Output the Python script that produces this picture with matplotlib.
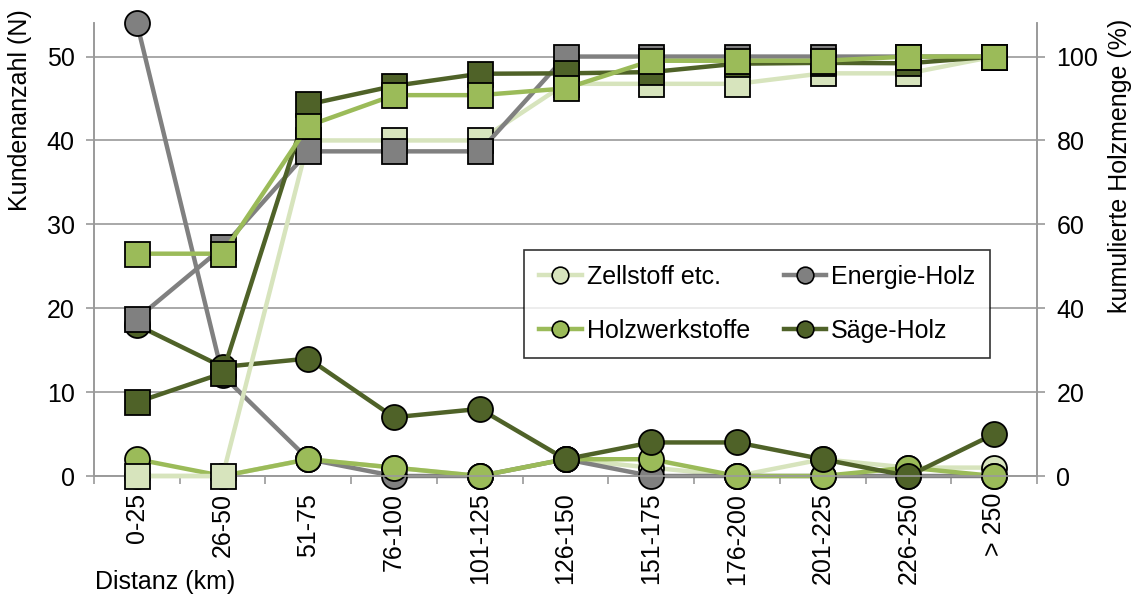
import numpy as np
import matplotlib.pyplot as plt
from matplotlib.lines import Line2D

plt.rcParams['font.family'] = ['Liberation Sans', 'DejaVu Sans']

cats = ['0-25', '26-50', '51-75', '76-100', '101-125', '126-150',
        '151-175', '176-200', '201-225', '226-250', '> 250']

# Kundenanzahl (N) - circles, left axis
zell_n = [0, 0, 2, 1, 0, 2, 1, 0, 2, 1, 1]
energie_n = [54, 12, 2, 0, 0, 2, 0, 0, 0, 0, 0]
holzw_n = [2, 0, 2, 1, 0, 2, 2, 0, 0, 1, 0]
saege_n = [18, 13, 14, 7, 8, 2, 4, 4, 2, 0, 5]

# kumulierte Holzmenge (%) - squares, right axis
zell_cum = [0, 0, 80, 80, 80, 93.5, 93.5, 93.5, 96, 96, 100]
energie_cum = [37.5, 54.5, 77.4, 77.4, 77.4, 100, 100, 100, 100, 100, 100]
holzw_cum = [53, 53, 83.5, 90.8, 90.8, 92.4, 99, 99, 99, 100, 100]
saege_cum = [17.6, 24.5, 88.6, 93, 95.9, 96, 96.3, 98.3, 98.5, 98.4, 100]

names = ['Zellstoff etc.', 'Energie-Holz', 'Holzwerkstoffe', 'Säge-Holz']
colors = ['#d7e4bd', '#808080', '#9bbb59', '#4f6228']
axis_col = '#9a9a9a'
fs = 18

x = np.arange(len(cats))

fig = plt.figure(figsize=(11.37, 5.97), dpi=100)
ax = fig.add_axes([94/1137, 1-476/597, (1037-94)/1137, (476-23)/597])
ax2 = ax.twinx()

# circles (counts)
for vals, c, z in zip([zell_n, energie_n, holzw_n, saege_n], colors, [3, 4, 5, 6]):
    ax.plot(x, vals, color=c, lw=3.2, marker='o', ms=18, mfc=c, mec='black',
            mew=1.3, zorder=z, clip_on=False)

# squares (cumulative)
for vals, c, z in zip([zell_cum, energie_cum, saege_cum, holzw_cum],
                      [colors[0], colors[1], colors[3], colors[2]], [3, 4, 5, 6]):
    ax2.plot(x, vals, color=c, lw=3.2, marker='s', ms=18, mfc=c, mec='black',
             mew=1.3, zorder=z, clip_on=False)

ax.set_xlim(-0.5, len(cats) - 0.5)
ax.set_ylim(0, 54)
ax2.set_ylim(0, 108)
ax.set_yticks(range(0, 51, 10))
ax2.set_yticks(range(0, 101, 20))

ax.set_xticks(x)
ax.set_xticklabels(cats, rotation=90, fontsize=fs)
ax.set_xticks(np.arange(-0.5, len(cats)), minor=True)
ax.tick_params(axis='x', which='major', length=0, pad=12)
ax.tick_params(axis='x', which='minor', length=6, width=1.2, color=axis_col, direction='out')
ax.tick_params(axis='y', labelsize=fs, length=6, width=1.2, color=axis_col, pad=8)
ax2.tick_params(axis='y', labelsize=fs, length=6, width=1.2, color=axis_col, pad=8)

ax.grid(axis='y', color=axis_col, lw=1.2)
ax.set_axisbelow(True)
for a in (ax, ax2):
    a.spines['top'].set_visible(False)
    for s in ('left', 'right', 'bottom'):
        a.spines[s].set_color(axis_col)
        a.spines[s].set_linewidth(1.2)

fig.text(20/1137, 1-110/597, 'Kundenanzahl (N)', rotation=90, fontsize=fs,
         ha='center', va='center')
fig.text(1120/1137, 1-166/597, 'kumulierte Holzmenge (%)', rotation=90, fontsize=fs,
         ha='center', va='center')
fig.text(95/1137, 1-582/597, 'Distanz (km)', fontsize=fs, ha='left', va='center')

# column-major fill -> rows: Zellstoff/Energie, Holzwerkstoffe/Säge
order = [0, 2, 1, 3]
handles = [Line2D([], [], color=colors[i], lw=3.2, marker='o', ms=12, mfc=colors[i],
                  mec='black', mew=1.2) for i in order]
leg = ax2.legend(handles, [names[i] for i in order], ncol=2, loc='upper left',
                 bbox_to_anchor=(0.456, 0.499), borderaxespad=0,
                 fontsize=fs, frameon=True, fancybox=False, edgecolor='black',
                 handlelength=1.7, handletextpad=0.2, columnspacing=1.35,
                 labelspacing=1.2, borderpad=0.6)
leg.get_frame().set_linewidth(1.2)
leg.set_zorder(10)

fig.savefig('out.png', dpi=100)
